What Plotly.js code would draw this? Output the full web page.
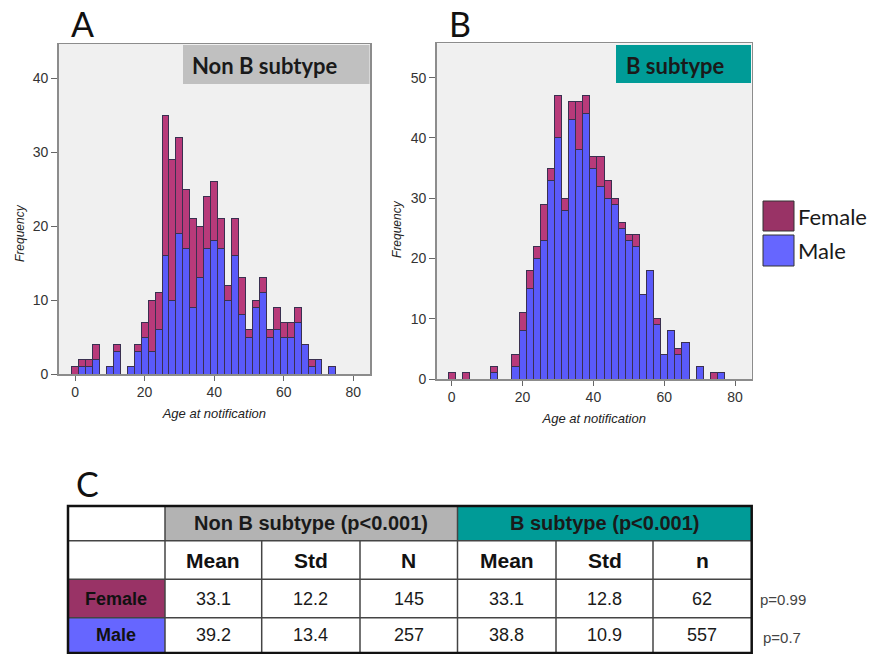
<!DOCTYPE html>
<html>
<head>
<meta charset="utf-8">
<script src="https://cdn.plot.ly/plotly-3.0.1.min.js"></script>
<style>html,body{margin:0;padding:0;background:#fff;}#chart{width:869px;height:654px;}</style>
</head>
<body>
<div id="chart"></div>
<script>
// ---------- DATA ----------
const agesA = [0,2,4,6,8,10,12,14,16,18,20,22,24,26,28,30,32,34,36,38,40,42,44,46,48,50,52,54,56,58,60,62,64,66,68,70,72,74];
const maleA = [0,1,1,2,0,1,3,0,1,3,5,3,6,16,10,19,17,9,13,17,18,17,10,16,8,5,9,11,5,6,5,5,7,4,1,2,0,1];
const femaleA = [1,1,1,2,0,0,1,0,0,1,2,7,5,19,19,13,8,12,7,7,8,4,2,5,5,1,1,2,1,3,2,2,2,0,1,0,0,0];

const agesB = [0,2,4,6,8,10,12,14,16,18,20,22,24,26,28,30,32,34,36,38,40,42,44,46,48,50,52,54,56,58,60,62,64,66,68,70,72,74,76];
const maleB = [0,0,0,0,0,0,1,0,0,2,8,15,20,23,33,40,28,43,38,44,35,32,30,29,25,23,22,14,18,9,4,8,4,6,0,2,0,0,1];
const femaleB = [1,0,1,0,0,0,1,0,0,2,3,3,2,6,2,7,2,3,8,3,2,5,3,1,1,1,2,0,0,1,0,0,1,0,0,0,0,1,0];

const xTicks = [0,20,40,60,80];
const yTicksA = [0,10,20,30,40];
const yTicksB = [0,10,20,30,40,50];

const panelLetters = ['A','B','C'];
const panelTitles = ['Non B subtype','B subtype'];
const seriesNames = ['Female','Male'];

const tableGroups = ['Non B subtype (p<0.001)','B subtype (p<0.001)'];
const statLabels = ['Mean','Std','N','Mean','Std','n'];
const femaleStats = ['33.1','12.2','145','33.1','12.8','62'];
const maleStats = ['39.2','13.4','257','38.8','10.9','557'];
const pValues = ['p=0.99','p=0.7'];

// ---------- STYLE ----------
const W = 869, H = 654;
const px = x => x / W;
const py = y => 1 - y / H;
const femaleBar = '#b83a7a', maleBar = '#5a5afa';
const femaleDark = '#993366', maleLight = '#6666ff';
const teal = '#009b97', grayBox = '#c0c0c0';
const barLine = {color:'#3a3050', width:1};
const tickFont = {family:'Liberation Sans, Arial, sans-serif', size:14, color:'#333'};
const calFont = 'Lato, "Open Sans", sans-serif';
const arial = 'Liberation Sans, Arial, sans-serif';

function nz(ages, vals){
  const x=[], y=[];
  ages.forEach((a,i)=>{ if (vals[i] > 0){ x.push(a); y.push(vals[i]); } });
  return {x, y};
}

const mA = nz(agesA, maleA), fA = nz(agesA, femaleA);
const mB = nz(agesB, maleB), fB = nz(agesB, femaleB);

const traces = [
  {type:'bar', x:mA.x, y:mA.y, width:2, xaxis:'x', yaxis:'y', name:seriesNames[1], marker:{color:maleBar, line:barLine}, showlegend:false},
  {type:'bar', x:fA.x, y:fA.y, width:2, xaxis:'x', yaxis:'y', name:seriesNames[0], marker:{color:femaleBar, line:barLine}, showlegend:false},
  {type:'bar', x:mB.x, y:mB.y, width:2, xaxis:'x2', yaxis:'y2', name:seriesNames[1], marker:{color:maleBar, line:barLine}, showlegend:false},
  {type:'bar', x:fB.x, y:fB.y, width:2, xaxis:'x2', yaxis:'y2', name:seriesNames[0], marker:{color:femaleBar, line:barLine}, showlegend:false}
];

function xAxis(domain, range){
  return {domain, range, tickvals:xTicks, ticks:'outside', ticklen:5, tickwidth:1, tickcolor:'#666',
    showgrid:false, zeroline:false, showline:true, mirror:true, linecolor:'#8c8c8c', linewidth:1.5,
    tickfont:tickFont, fixedrange:true,
    title:{text:'Age at notification', font:{family:arial, size:13, style:'italic', color:'#222'}, standoff:9}};
}
function yAxis(domain, range, tv, anchor){
  return {domain, range, tickvals:tv, ticks:'outside', ticklen:6, tickwidth:1, tickcolor:'#666',
    showgrid:false, zeroline:false, showline:true, mirror:true, linecolor:'#8c8c8c', linewidth:1.5,
    tickfont:tickFont, anchor, fixedrange:true};
}

const shapes = [];
const annotations = [];

// panel title boxes
shapes.push({type:'rect', xref:'paper', yref:'paper', x0:px(183), x1:px(369.5), y0:py(45), y1:py(84), fillcolor:grayBox, line:{width:0}, layer:'above'});
shapes.push({type:'rect', xref:'paper', yref:'paper', x0:px(616), x1:px(751), y0:py(45), y1:py(83), fillcolor:teal, line:{width:0}, layer:'above'});
annotations.push({xref:'paper', yref:'paper', x:px(265), y:py(65), text:panelTitles[0], showarrow:false, xanchor:'center', yanchor:'middle', font:{family:calFont, size:22, weight:700, color:'#1a1a1a'}});
annotations.push({xref:'paper', yref:'paper', x:px(675), y:py(65), text:panelTitles[1], showarrow:false, xanchor:'center', yanchor:'middle', font:{family:calFont, size:22, weight:700, color:'#1a1a1a'}});

// panel letters
[[82.5,23],[459.5,23],[87,483]].forEach((p,i)=>{
  annotations.push({xref:'paper', yref:'paper', x:px(p[0]), y:py(p[1]), text:panelLetters[i], showarrow:false, xanchor:'center', yanchor:'middle', font:{family:calFont, size:34, color:'#111'}});
});

// y axis titles
[[20,233],[397,229]].forEach(p=>{
  annotations.push({xref:'paper', yref:'paper', x:px(p[0]), y:py(p[1]), text:'Frequency', textangle:-90, showarrow:false, xanchor:'center', yanchor:'middle', font:{family:arial, size:12, style:'italic', color:'#222'}});
});

// legend
const legendRows = [[seriesNames[0], femaleDark, 201, 231], [seriesNames[1], maleLight, 235, 266]];
legendRows.forEach(r=>{
  shapes.push({type:'rect', xref:'paper', yref:'paper', x0:px(763), x1:px(794), y0:py(r[2]), y1:py(r[3]), fillcolor:r[1], line:{color:'#333', width:1}});
  annotations.push({xref:'paper', yref:'paper', x:px(796), y:py((r[2]+r[3])/2), text:r[0], showarrow:false, xanchor:'left', yanchor:'middle', font:{family:calFont, size:22, color:'#1a1a1a'}});
});

// table
const colX = [68,165,261.7,360,457.5,556,653,751.7];
const rowY = [506,540.7,579.3,617.7,653];
// fills
shapes.push({type:'rect', xref:'paper', yref:'paper', x0:px(colX[1]), x1:px(colX[4]), y0:py(rowY[0]), y1:py(rowY[1]), fillcolor:'#b3b3b3', line:{width:0}});
shapes.push({type:'rect', xref:'paper', yref:'paper', x0:px(colX[4]), x1:px(colX[7]), y0:py(rowY[0]), y1:py(rowY[1]), fillcolor:teal, line:{width:0}});
shapes.push({type:'rect', xref:'paper', yref:'paper', x0:px(colX[0]), x1:px(colX[1]), y0:py(rowY[2]), y1:py(rowY[3]), fillcolor:femaleDark, line:{width:0}});
shapes.push({type:'rect', xref:'paper', yref:'paper', x0:px(colX[0]), x1:px(colX[1]), y0:py(rowY[3]), y1:py(rowY[4]), fillcolor:maleLight, line:{width:0}});
// inner horizontal lines
for (let r=1; r<4; r++){
  shapes.push({type:'line', xref:'paper', yref:'paper', x0:px(colX[0]), x1:px(colX[7]), y0:py(rowY[r]), y1:py(rowY[r]), line:{color:'#444', width:1.5}});
}
// inner vertical lines
for (let c=1; c<7; c++){
  const top = (c===2||c===3||c===5||c===6) ? rowY[1] : rowY[0];
  shapes.push({type:'line', xref:'paper', yref:'paper', x0:px(colX[c]), x1:px(colX[c]), y0:py(top), y1:py(rowY[4]), line:{color:'#444', width:1.5}});
}
// outer border
shapes.push({type:'rect', xref:'paper', yref:'paper', x0:px(colX[0]), x1:px(colX[7]), y0:py(rowY[0]), y1:py(rowY[4]), line:{color:'#111', width:2.5}, fillcolor:'rgba(0,0,0,0)'});

// table texts
annotations.push({xref:'paper', yref:'paper', x:px((colX[1]+colX[4])/2), y:py((rowY[0]+rowY[1])/2), text:tableGroups[0], showarrow:false, xanchor:'center', yanchor:'middle', font:{family:arial, size:20, weight:700, color:'#1a1a1a'}});
annotations.push({xref:'paper', yref:'paper', x:px((colX[4]+colX[7])/2), y:py((rowY[0]+rowY[1])/2), text:tableGroups[1], showarrow:false, xanchor:'center', yanchor:'middle', font:{family:arial, size:20, weight:700, color:'#1a1a1a'}});
statLabels.forEach((s,i)=>{
  annotations.push({xref:'paper', yref:'paper', x:px((colX[i+1]+colX[i+2])/2), y:py((rowY[1]+rowY[2])/2), text:s, showarrow:false, xanchor:'center', yanchor:'middle', font:{family:arial, size:21, weight:700, color:'#111'}});
});
[[seriesNames[0], femaleStats, 2],[seriesNames[1], maleStats, 3]].forEach(row=>{
  const yc = (rowY[row[2]]+rowY[row[2]+1])/2;
  annotations.push({xref:'paper', yref:'paper', x:px((colX[0]+colX[1])/2), y:py(yc), text:row[0], showarrow:false, xanchor:'center', yanchor:'middle', font:{family:arial, size:18, weight:700, color:'#111'}});
  row[1].forEach((v,i)=>{
    annotations.push({xref:'paper', yref:'paper', x:px((colX[i+1]+colX[i+2])/2), y:py(yc), text:v, showarrow:false, xanchor:'center', yanchor:'middle', font:{family:arial, size:18, color:'#1a1a1a'}});
  });
});
annotations.push({xref:'paper', yref:'paper', x:px(758), y:py(599), text:pValues[0], showarrow:false, xanchor:'left', yanchor:'middle', font:{family:arial, size:15, color:'#444'}});
annotations.push({xref:'paper', yref:'paper', x:px(761), y:py(637), text:pValues[1], showarrow:false, xanchor:'left', yanchor:'middle', font:{family:arial, size:15, color:'#444'}});

const layout = {
  width:W, height:H, margin:{l:0,r:0,t:0,b:0},
  paper_bgcolor:'#ffffff', plot_bgcolor:'#f0f0f0',
  barmode:'stack', bargap:0, showlegend:false,
  xaxis: xAxis([px(58.7), px(370)], [-4.7, 84.8]),
  yaxis: yAxis([py(374), py(44)], [0, 44.6], yTicksA, 'x'),
  xaxis2: Object.assign(xAxis([px(436.7), px(751.7)], [-4.24, 84.7]), {anchor:'y2'}),
  yaxis2: yAxis([py(379), py(43.3)], [0, 55.7], yTicksB, 'x2'),
  shapes, annotations
};
layout.xaxis.anchor = 'y';

Plotly.newPlot('chart', traces, layout, {staticPlot:true, displayModeBar:false});
</script>
</body>
</html>
